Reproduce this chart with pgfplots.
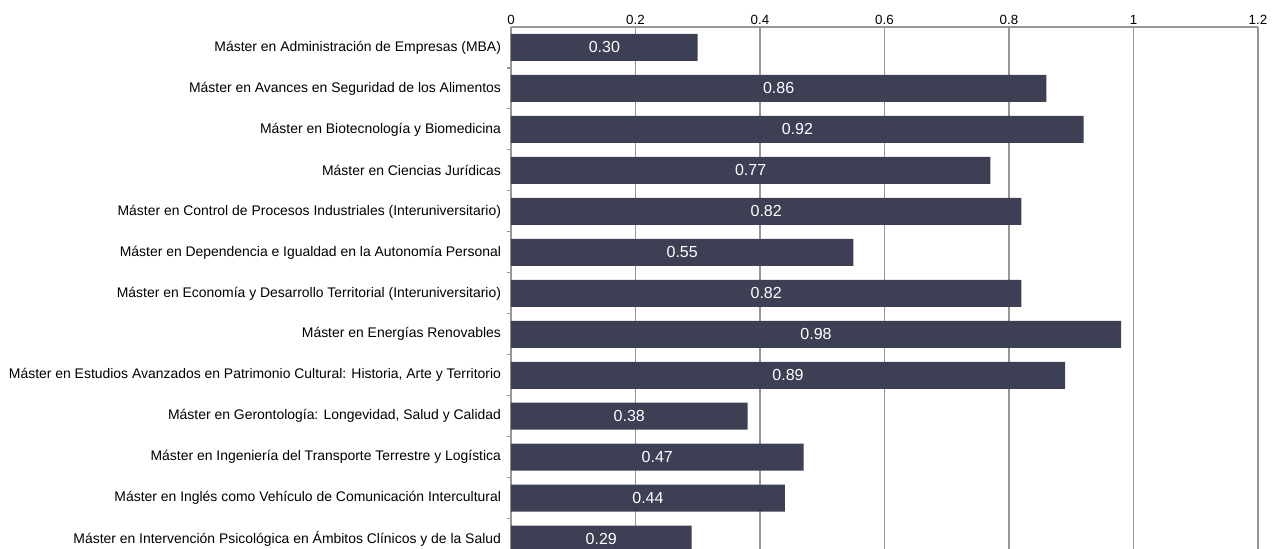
\documentclass[border=0pt]{standalone}
\usepackage{pgfplots}
\pgfplotsset{compat=1.18}
\usepackage{pgfplotstable}
\usepackage{fontspec}
\setmainfont{Liberation Sans}
\definecolor{barc}{RGB}{61,64,84}
\definecolor{gridc}{RGB}{150,150,150}
\pgfplotstableread[col sep=comma]{
idx,v
0,0.30
1,0.86
2,0.92
3,0.77
4,0.82
5,0.55
6,0.82
7,0.98
8,0.89
9,0.38
10,0.47
11,0.44
12,0.29
}\datatable
\begin{document}
\begin{tikzpicture}
\begin{axis}[
  scale only axis, width=560.25pt, height=391.5pt,
  bar width=20.25pt,
  xmin=0, xmax=1.2, ymin=-0.5, ymax=12.24, y dir=reverse,
  axis x line*=top, axis y line*=left,
  axis line style={gridc, line width=1.4pt},
  xmajorgrids, major grid style={gridc, line width=1.4pt},
  xtick={0,0.2,0.4,0.6,0.8,1,1.2},
  xticklabels={0,0.2,0.4,0.6,0.8,1,1.2},
  xtick style={draw=none},
  xticklabel style={font=\fontsize{10}{12}\selectfont, yshift=-2pt},
  ytick={0,1,2,3,4,5,6,7,8,9,10,11,12},
  yticklabels={
    {Máster en Administración de Empresas (MBA)},
    {Máster en Avances en Seguridad de los Alimentos},
    {Máster en Biotecnología y Biomedicina},
    {Máster en Ciencias Jurídicas},
    {Máster en Control de Procesos Industriales (Interuniversitario)},
    {Máster en Dependencia e Igualdad en la Autonomía Personal},
    {Máster en Economía y Desarrollo Territorial (Interuniversitario)},
    {Máster en Energías Renovables},
    {Máster en Estudios Avanzados en Patrimonio Cultural: Historia, Arte y Territorio},
    {Máster en Gerontología: Longevidad, Salud y Calidad},
    {Máster en Ingeniería del Transporte Terrestre y Logística},
    {Máster en Inglés como Vehículo de Comunicación Intercultural},
    {Máster en Intervención Psicológica en Ámbitos Clínicos y de la Salud}},
  yticklabel style={font=\fontsize{10.45}{12}\selectfont, xshift=-4pt},
  major tick length=0pt,
  minor ytick={0.5,1.5,2.5,3.5,4.5,5.5,6.5,7.5,8.5,9.5,10.5,11.5},
  minor tick length=3pt, tick align=outside,
  minor tick style={gridc, line width=0.8pt},
]
\addplot[xbar, fill=barc, draw=none] table[x=v, y=idx] {\datatable};
\addplot[draw=none, mark=none, nodes near coords={\pgfmathprintnumber[fixed, fixed zerofill, precision=2, assume math mode=true]{\pgfplotspointmeta}},
  point meta=explicit,
  nodes near coords style={white, anchor=center, font=\fontsize{12}{14}\selectfont}]
  table[x expr=\thisrow{v}/2, y=idx, meta=v] {\datatable};
\end{axis}
\pgfresetboundingbox
\path ([xshift=-383.25pt]current axis.south west) rectangle ([xshift=19.5pt,yshift=20.25pt]current axis.north east);
\end{tikzpicture}
\end{document}
